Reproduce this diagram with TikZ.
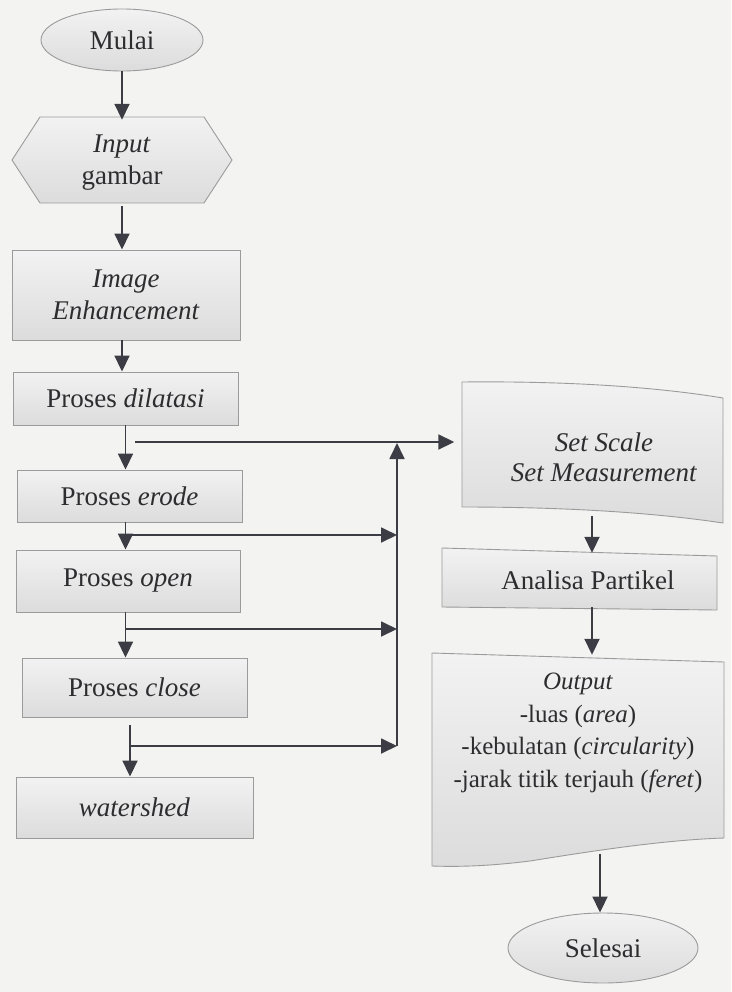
\documentclass[tikz,border=0pt]{standalone}
\usepackage{fontspec}
\setmainfont{Liberation Serif}
\usetikzlibrary{shapes.geometric,arrows.meta}
\definecolor{bg}{RGB}{243,243,241}
\definecolor{wirec}{RGB}{60,60,68}
\definecolor{bd}{RGB}{155,155,155}
\definecolor{tx}{RGB}{45,45,48}
\definecolor{ftop}{RGB}{242,242,242}
\definecolor{fbot}{RGB}{220,220,220}
\tikzset{
  arr/.style={draw=wirec, line width=1.8pt, -{Triangle[length=16pt,width=15pt]}},
  wire/.style={draw=wirec, line width=1.8pt},
  boxfill/.style={draw=bd, line width=0.9pt, top color=ftop, bottom color=fbot},
  lbl/.style={text=tx, font=\fontsize{27}{30}\selectfont, align=center, inner sep=0pt},
  rlbl/.style={text=tx, font=\fontsize{25}{32.5}\selectfont, align=center, inner sep=0pt},
  boxnode/.style={boxfill, rectangle, lbl},
}
\begin{document}
\begin{tikzpicture}[x=1pt,y=-1pt]
\fill[bg] (0,0) rectangle (731,992);
\useasboundingbox (0,0) rectangle (731,992);

% ---- left column ----
\node[ellipse, boxfill, lbl, minimum width=162pt, minimum height=62pt] (mulai) at (122,40) {Mulai};

\path[boxfill] (12,160) -- (40,117) -- (204,117) -- (232,160) -- (204,203) -- (40,203) -- cycle;
\node[lbl, minimum width=220pt, minimum height=86pt] (inp) at (122,163) {\textit{Input}\\[2pt]gambar};

\node[boxnode, minimum width=228pt, minimum height=90pt] (enh) at (126,295) {\textit{Image}\\[2pt]\textit{Enhancement}};
\node[boxnode, minimum width=225pt, minimum height=53pt] (dil) at (125.5,398.5) {Proses \textit{dilatasi}};
\node[boxnode, minimum width=225pt, minimum height=52pt] (ero) at (129.5,496) {Proses \textit{erode}};
\node[boxnode, minimum width=224pt, minimum height=62pt] (opn) at (128,581) {Proses \textit{open}};
\node[boxnode, minimum width=225pt, minimum height=59pt] (cls) at (134.5,687.5) {Proses \textit{close}};
\node[boxnode, minimum width=237pt, minimum height=61pt] (wat) at (134.5,807.5) {\textit{watershed}};

% ---- right column ----
\path[boxfill] (462,382) .. controls (560,381) and (650,386) .. (723,398) -- (723,523)
   .. controls (650,512) and (560,507) .. (462,507) -- cycle;
\node[lbl, minimum width=261pt, minimum height=125pt] (set) at (604,457) {\textit{Set Scale}\\\textit{Set Measurement}};
\coordinate (setb) at (592,516);

\path[boxfill] (442,548) -- (717,556) -- (717,610) -- (442,607) -- cycle;
\node[lbl, minimum width=270pt, minimum height=54pt] (ana) at (588,580) {Analisa Partikel};

\path[boxfill] (432,653) -- (724,662) -- (724,838)
   .. controls (660,840) and (580,853) .. (530,861)
   .. controls (490,866) and (460,867) .. (432,866) -- cycle;
\node[rlbl, minimum width=280pt, minimum height=156pt] (out) at (578,733)
   {\textit{Output}\\-luas (\textit{area})\\-kebulatan (\textit{circularity})\\-jarak titik terjauh (\textit{feret})};
\coordinate (outb) at (600,854);

\node[ellipse, boxfill, lbl, minimum width=190pt, minimum height=70pt] (sel) at (603,948) {Selesai};

% ---- connectors ----
\draw[arr] (mulai.south) -- (mulai.south |- inp.north);
\draw[arr] (inp.south) -- (inp.south |- enh.north);
\draw[arr] (enh.south -| inp.south) -- (dil.north -| inp.south);
\draw[arr] (dil.south) -- (dil.south |- ero.north);
\draw[arr] (ero.south -| dil.south) -- (opn.north -| dil.south);
\draw[arr] (opn.south -| dil.south) -- (cls.north -| dil.south);
\coordinate (c4) at (130,725);
\draw[arr] (c4) -- (c4 |- wat.north);

\coordinate (h0) at (135,442);
\draw[arr, shorten >=19pt] (h0) -- (h0 -| set.west);

\coordinate (j1) at (125,535);
\coordinate (k1) at (397,535);
\coordinate (j2) at (125,629);
\coordinate (k2) at (397,629);
\coordinate (j3) at (129,746);
\coordinate (k3) at (397,746);
\coordinate (kt) at (397,443);
\draw[arr] (j1) -- (k1);
\draw[arr] (j2) -- (k2);
\draw[arr] (j3) -- (k3);
\draw[arr] (k3) -- (kt);

\draw[arr] (setb) -- (setb |- ana.north);
\draw[arr] (ana.south -| setb) -- (setb |- out.north);
\draw[arr] (outb) -- (outb |- sel.north);
\end{tikzpicture}
\end{document}
